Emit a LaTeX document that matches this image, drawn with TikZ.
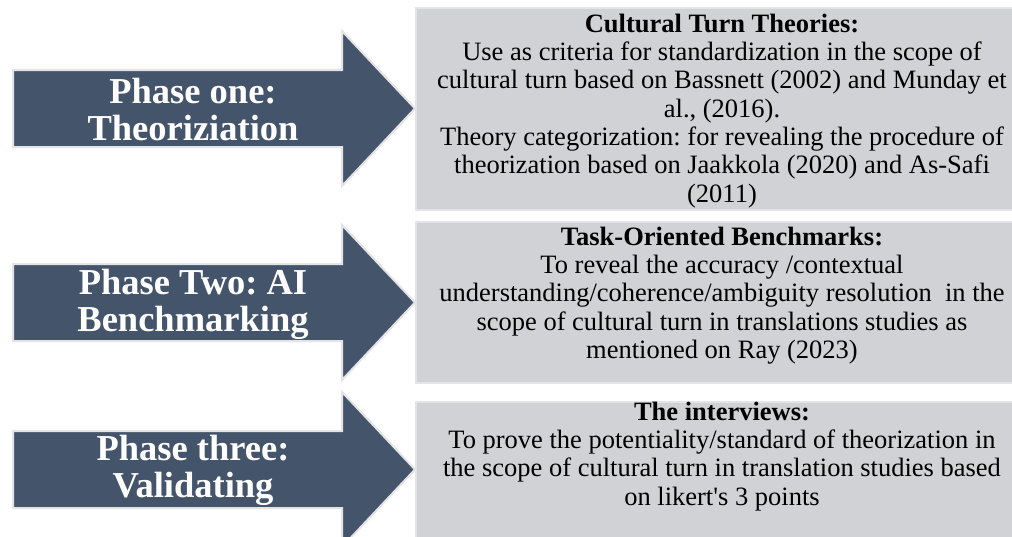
\documentclass[tikz,border=0pt]{standalone}
\usepackage{fontspec}
\setmainfont{Liberation Serif}
\frenchspacing
\definecolor{phaseblue}{RGB}{68,84,106}
\definecolor{boxgray}{RGB}{209,210,214}
\definecolor{rimgray}{RGB}{228,228,230}

\begin{document}
\begin{tikzpicture}[x=1pt,y=-1pt,
	phasearrow/.style={fill=phaseblue,draw=rimgray,line width=2pt,line join=miter},
	infobox/.style={fill=boxgray,draw=rimgray,line width=1.5pt},
	phasetext/.style={text=white,font=\fontsize{36.5}{37}\selectfont\bfseries,align=center,inner sep=0pt},
	infotext/.style={font=\fontsize{26.5}{28.3}\selectfont,align=center,anchor=north,inner sep=0pt}]
	\useasboundingbox (0,0) rectangle (1012,536); %page
	\clip (0,0) rectangle (1012,536);

	%boxes
	\draw[infobox] (416,8) rectangle (1030,210); %box 1
	\draw[infobox] (416,222) rectangle (1030,383); %box 2
	\draw[infobox] (416,402) rectangle (1030,565); %box 3

	%arrows
	\foreach \yc in {108.5,302.5,469.5}{
		\draw[phasearrow] (13,\yc-38.5) -- (342,\yc-38.5) -- (342,\yc-77.5) -- (415,\yc) -- (342,\yc+77.5) -- (342,\yc+38.5) -- (13,\yc+38.5) -- cycle; %arrow shape
	}

	%phase labels
	\node[phasetext] (p1) at (193,110) {Phase one:\\Theoriziation}; %phase 1
	\node[phasetext] (p2) at (193,304) {Phase Two: AI\\Benchmarking}; %phase 2
	\node[phasetext] (p3) at (193,470) {Phase three:\\Validating}; %phase 3

	%box texts
	\node[infotext] (t1) at (722,13.7) {\textbf{Cultural Turn Theories:}\\%
		Use as criteria for standardization in the scope of\\%
		cultural turn based on Bassnett (2002) and Munday et\\%
		al., (2016).\\%
		Theory categorization: for revealing the procedure of\\%
		theorization based on Jaakkola (2020) and As-Safi\\%
		(2011)}; %theories
	\node[infotext] (t2) at (722,226.7) {\textbf{Task-Oriented Benchmarks:}\\%
		To reveal the accuracy /contextual\\%
		understanding/coherence/ambiguity resolution\ \ in the\\%
		scope of cultural turn in translations studies as\\%
		mentioned on Ray (2023)}; %benchmarks
	\node[infotext] (t3) at (722,401.7) {\textbf{The interviews:}\\%
		To prove the potentiality/standard of theorization in\\%
		the scope of cultural turn in translation studies based\\%
		on likert\textquotesingle s 3 points}; %interviews
\end{tikzpicture}
\end{document}
